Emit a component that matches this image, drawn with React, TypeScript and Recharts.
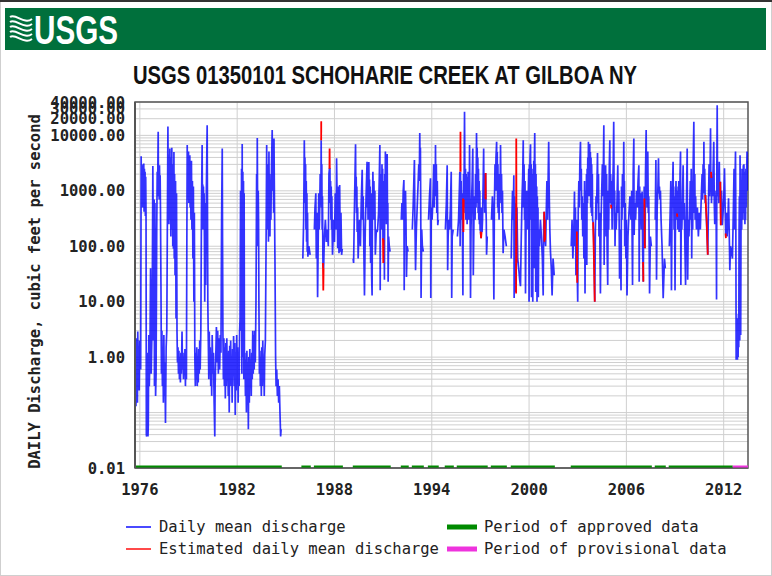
import React from 'react';
import { LineChart, Line, XAxis, YAxis, CartesianGrid, ReferenceArea } from 'recharts';

type Pt = [number, number];

const stationTitle = 'USGS 01350101 SCHOHARIE CREEK AT GILBOA NY';
const yAxisTitle = 'DAILY Discharge, cubic feet per second';
const yearTicks = [1976, 1982, 1988, 1994, 2000, 2006, 2012];
const flowTicks = [0.01, 1, 10, 100, 1000, 10000, 20000, 30000, 40000];

const flow1976: Pt[] = [
  [1975.70, 2.6], [1975.72, 0.3], [1975.74, 1.5], [1975.76, 0.13], [1975.78, 2.2], [1975.80, 0.4], [1975.82, 1.0], [1975.85, 0.15],
  [1975.87, 2.9], [1975.90, 0.5], [1975.93, 1.5], [1975.96, 0.25], [1975.99, 2.0], [1976.01, 0.8], [1976.05, 0.6], [1976.08, 4200],
  [1976.10, 600], [1976.12, 3000], [1976.14, 1200], [1976.16, 2900], [1976.18, 500], [1976.20, 2600], [1976.22, 900], [1976.24, 3100],
  [1976.26, 420], [1976.28, 2500], [1976.30, 700], [1976.32, 2200], [1976.34, 350], [1976.36, 1800], [1976.38, 400], [1976.40, 0.04],
  [1976.42, 0.037], [1976.44, 1.2], [1976.46, 0.04], [1976.48, 0.5], [1976.50, 0.037], [1976.52, 0.06], [1976.55, 2.5], [1976.58, 0.3],
  [1976.62, 1.0], [1976.66, 40], [1976.70, 0.5], [1976.76, 5], [1976.80, 2800], [1976.82, 300], [1976.84, 2.0], [1976.88, 700],
  [1976.90, 0.3], [1976.93, 600], [1976.95, 8], [1976.97, 0.2], [1977.00, 0.5], [1977.04, 200], [1977.07, 2200], [1977.09, 800],
  [1977.11, 3000], [1977.13, 11600], [1977.15, 1000], [1977.17, 2500], [1977.19, 700], [1977.21, 2900], [1977.23, 900], [1977.25, 1900],
  [1977.27, 500], [1977.30, 20], [1977.33, 0.5], [1977.36, 3], [1977.39, 0.3], [1977.42, 1.2], [1977.45, 0.15], [1977.48, 2.5],
  [1977.51, 0.2], [1977.54, 0.8], [1977.58, 0.065], [1977.62, 1.5], [1977.66, 3], [1977.70, 400], [1977.73, 14500], [1977.75, 1000],
  [1977.77, 4500], [1977.79, 250], [1977.81, 3800], [1977.83, 600], [1977.85, 5800], [1977.87, 300], [1977.89, 3500], [1977.91, 150],
  [1977.93, 4000], [1977.95, 400], [1977.97, 6000], [1977.99, 200], [1978.01, 3000], [1978.03, 100], [1978.05, 2500], [1978.07, 90],
  [1978.10, 5000], [1978.12, 60], [1978.14, 2000], [1978.17, 30], [1978.20, 1500], [1978.23, 5], [1978.26, 900], [1978.29, 2.9],
  [1978.32, 0.8], [1978.35, 1.5], [1978.38, 0.5], [1978.41, 1.3], [1978.44, 0.4], [1978.47, 1.0], [1978.50, 0.35], [1978.53, 1.2],
  [1978.56, 0.5], [1978.60, 2.9], [1978.63, 0.6], [1978.66, 1.2], [1978.69, 0.4], [1978.72, 1.0], [1978.75, 0.5], [1978.78, 1.4],
  [1978.81, 0.3], [1978.84, 1.1], [1978.87, 0.4], [1978.90, 200], [1978.92, 6700], [1978.94, 700], [1978.96, 4000], [1978.98, 1000],
  [1979.00, 5100], [1979.02, 600], [1979.04, 3000], [1979.06, 800], [1979.08, 4400], [1979.10, 500], [1979.12, 2500], [1979.15, 300],
  [1979.18, 3500], [1979.21, 200], [1979.24, 1500], [1979.27, 60], [1979.30, 1200], [1979.33, 10], [1979.36, 400], [1979.39, 1],
  [1979.42, 0.3], [1979.45, 1.2], [1979.48, 0.4], [1979.51, 1.5], [1979.54, 0.3], [1979.57, 1.0], [1979.60, 0.35], [1979.63, 1.4],
  [1979.66, 0.5], [1979.69, 2.0], [1979.72, 0.6], [1979.76, 3], [1979.80, 500], [1979.84, 6700], [1979.86, 500], [1979.88, 1300],
  [1979.90, 200], [1979.92, 1200], [1979.94, 300], [1979.96, 900], [1979.98, 150], [1980.00, 10], [1980.02, 600], [1980.06, 20],
  [1980.10, 1000], [1980.15, 15300], [1980.17, 400], [1980.19, 10], [1980.22, 2.0], [1980.25, 0.4], [1980.28, 2.9], [1980.31, 0.6],
  [1980.34, 1.5], [1980.37, 0.3], [1980.40, 1.0], [1980.43, 0.2], [1980.46, 2.5], [1980.50, 0.5], [1980.54, 1.2], [1980.58, 0.15],
  [1980.62, 0.037], [1980.64, 0.3], [1980.68, 1.0], [1980.72, 3.5], [1980.76, 0.8], [1980.80, 3.0], [1980.84, 0.5], [1980.88, 2.2],
  [1980.92, 0.6], [1980.96, 2.5], [1981.00, 1.2], [1981.04, 300], [1981.08, 5800], [1981.10, 100], [1981.12, 3.0], [1981.15, 0.4],
  [1981.18, 2.2], [1981.21, 0.3], [1981.24, 1.5], [1981.27, 0.18], [1981.30, 1.8], [1981.33, 0.3], [1981.36, 2.2], [1981.39, 0.5],
  [1981.42, 1.0], [1981.45, 0.2], [1981.48, 1.3], [1981.51, 0.1], [1981.54, 1.6], [1981.57, 0.4], [1981.60, 2.0], [1981.63, 0.3],
  [1981.66, 1.0], [1981.69, 0.15], [1981.72, 1.4], [1981.75, 0.45], [1981.78, 2.4], [1981.82, 0.3], [1981.85, 1.8], [1981.88, 0.09],
  [1981.91, 1.2], [1981.94, 0.25], [1981.97, 2.5], [1982.00, 0.4], [1982.03, 1.5], [1982.06, 0.15], [1982.09, 1.0], [1982.12, 0.3],
  [1982.15, 2.9], [1982.18, 5], [1982.21, 1000], [1982.24, 3.0], [1982.27, 2500], [1982.29, 0.5], [1982.31, 7000], [1982.33, 10],
  [1982.35, 2200], [1982.37, 1.0], [1982.39, 1500], [1982.41, 0.4], [1982.43, 900], [1982.45, 0.5], [1982.48, 1.2], [1982.51, 0.2],
  [1982.54, 0.9], [1982.57, 0.1], [1982.60, 1.3], [1982.63, 0.3], [1982.66, 0.8], [1982.69, 0.05], [1982.72, 1.0], [1982.75, 0.15],
  [1982.78, 1.4], [1982.81, 0.3], [1982.84, 0.9], [1982.87, 0.2], [1982.90, 1.2], [1982.93, 0.4], [1982.96, 3.0], [1982.99, 0.5],
  [1983.02, 2.5], [1983.05, 0.6], [1983.08, 3], [1983.12, 0.8], [1983.16, 10], [1983.20, 2000], [1983.22, 100], [1983.24, 9000],
  [1983.26, 600], [1983.28, 200], [1983.30, 1000], [1983.32, 300], [1983.34, 10], [1983.37, 0.5], [1983.40, 1.3], [1983.43, 0.3],
  [1983.46, 1.0], [1983.49, 0.2], [1983.52, 1.5], [1983.55, 0.3], [1983.58, 2.0], [1983.61, 0.4], [1983.64, 0.9], [1983.67, 0.2],
  [1983.70, 1.1], [1983.74, 2.0], [1983.78, 80], [1983.82, 6700], [1983.84, 300], [1983.86, 1500], [1983.88, 200], [1983.91, 3000],
  [1983.93, 120], [1983.96, 5100], [1983.98, 500], [1984.00, 2000], [1984.02, 150], [1984.05, 1500], [1984.08, 300], [1984.12, 3000],
  [1984.16, 12500], [1984.19, 1000], [1984.22, 3000], [1984.25, 400], [1984.27, 8800], [1984.30, 600], [1984.33, 60], [1984.37, 1.0],
  [1984.40, 0.3], [1984.44, 0.6], [1984.48, 0.2], [1984.52, 0.4], [1984.56, 0.15], [1984.60, 0.3], [1984.64, 0.1], [1984.68, 0.037],
  [1984.71, 0.05],
];

const flow1986a: Pt[] = [
  [1986.05, 60], [1986.10, 300], [1986.12, 1500], [1986.14, 8200], [1986.16, 2000], [1986.18, 4000], [1986.20, 600], [1986.22, 3000],
  [1986.24, 200], [1986.26, 1500], [1986.28, 120], [1986.30, 900], [1986.32, 80], [1986.34, 400], [1986.36, 65], [1986.42, 100],
  [1986.50, 70],
];

const flow1986b: Pt[] = [
  [1986.76, 200], [1986.80, 500], [1986.85, 900], [1986.88, 60], [1986.92, 400], [1986.96, 12], [1987.00, 150], [1987.03, 900],
  [1987.06, 200], [1987.08, 300], [1987.12, 2000], [1987.16, 600], [1987.18, 8200], [1987.20, 500], [1987.22, 3000], [1987.24, 200],
  [1987.26, 800], [1987.29, 50], [1987.33, 40], [1987.38, 150], [1987.44, 300], [1987.50, 120], [1987.56, 200], [1987.62, 100],
  [1987.66, 2000], [1987.69, 2500], [1987.72, 2500], [1987.74, 600], [1987.76, 1500], [1987.78, 300], [1987.80, 1200], [1987.82, 200],
  [1987.84, 800], [1987.86, 150], [1987.88, 70], [1987.95, 300], [1988.00, 120], [1988.05, 900], [1988.10, 200], [1988.13, 3850],
  [1988.16, 800], [1988.20, 92], [1988.22, 1200], [1988.25, 200], [1988.28, 75], [1988.32, 1270], [1988.36, 80], [1988.40, 400],
  [1988.44, 70], [1988.48, 90],
];

const flow1989: Pt[] = [
  [1989.15, 60], [1989.18, 50], [1989.22, 300], [1989.26, 1500], [1989.30, 6900], [1989.32, 800], [1989.34, 1800], [1989.36, 400],
  [1989.38, 1200], [1989.40, 180], [1989.43, 500], [1989.46, 60], [1989.50, 150], [1989.55, 300], [1989.60, 100], [1989.65, 600],
  [1989.71, 2400], [1989.74, 300], [1989.77, 800], [1989.80, 150], [1989.85, 13], [1989.90, 200], [1989.95, 800], [1990.01, 3350],
  [1990.03, 500], [1990.05, 2000], [1990.07, 300], [1990.09, 1800], [1990.12, 3300], [1990.14, 400], [1990.16, 1600], [1990.18, 100],
  [1990.20, 1200], [1990.23, 50], [1990.26, 900], [1990.29, 30], [1990.32, 13], [1990.34, 500], [1990.37, 2200], [1990.40, 300],
  [1990.43, 1500], [1990.46, 400], [1990.49, 1000], [1990.52, 70], [1990.58, 200], [1990.63, 180], [1990.66, 200], [1990.72, 400],
  [1990.76, 1500], [1990.80, 6700], [1990.82, 16], [1990.84, 1000], [1990.86, 300], [1990.88, 2000], [1990.90, 200], [1990.93, 3000],
  [1990.95, 400], [1990.97, 2500], [1990.99, 140], [1991.03, 130], [1991.05, 1500], [1991.08, 25], [1991.10, 2000], [1991.12, 300],
  [1991.14, 5100], [1991.16, 500], [1991.18, 3000], [1991.20, 250], [1991.22, 2500], [1991.25, 4600], [1991.27, 300], [1991.29, 600],
  [1991.31, 23], [1991.34, 150], [1991.38, 100], [1991.43, 80],
];

const flow1992a: Pt[] = [
  [1992.12, 300], [1992.16, 600], [1992.20, 300], [1992.24, 1000], [1992.28, 1560], [1992.30, 16], [1992.32, 800], [1992.35, 400],
  [1992.38, 1000], [1992.41, 300], [1992.44, 28], [1992.48, 100], [1992.54, 80],
];

const flow1992b: Pt[] = [
  [1992.80, 200], [1992.85, 500], [1992.93, 3600], [1992.96, 300], [1993.00, 37], [1993.05, 200], [1993.10, 500], [1993.15, 1200],
  [1993.20, 3000], [1993.23, 1500], [1993.26, 11000], [1993.28, 2500], [1993.30, 6000], [1993.32, 500], [1993.34, 11.6], [1993.38, 200],
  [1993.42, 100], [1993.48, 80],
];

const flow1993: Pt[] = [
  [1993.80, 300], [1993.86, 800], [1993.92, 1680], [1993.94, 11.6], [1993.97, 500], [1994.02, 300], [1994.08, 800], [1994.12, 3000],
  [1994.15, 500], [1994.18, 2500], [1994.21, 800], [1994.23, 6700], [1994.25, 900], [1994.28, 3000], [1994.31, 400], [1994.34, 1500],
  [1994.37, 240], [1994.40, 300],
];

const flow1994: Pt[] = [
  [1994.84, 200], [1994.90, 600], [1994.95, 2900], [1994.98, 37], [1995.01, 150], [1995.05, 300], [1995.10, 200], [1995.15, 500],
  [1995.20, 2200], [1995.23, 11.6], [1995.26, 150], [1995.32, 200],
];

const flow1995: Pt[] = [
  [1995.58, 150], [1995.65, 300], [1995.70, 1000], [1995.73, 2200], [1995.75, 100], [1995.77, 2200], [1995.79, 500], [1995.81, 1500],
  [1995.83, 300], [1995.86, 900], [1995.89, 200], [1995.92, 13], [1995.94, 600], [1995.96, 2000], [1995.98, 400], [1996.00, 3000],
  [1996.02, 26700], [1996.04, 2000], [1996.06, 500], [1996.08, 2500], [1996.10, 300], [1996.12, 2000], [1996.14, 600], [1996.16, 1800],
  [1996.18, 250], [1996.20, 1500], [1996.22, 400], [1996.24, 2200], [1996.26, 300], [1996.28, 1500], [1996.31, 500], [1996.33, 6700],
  [1996.35, 800], [1996.37, 200], [1996.39, 11.6], [1996.42, 200], [1996.45, 600], [1996.49, 1500], [1996.53, 5800], [1996.56, 30],
  [1996.60, 300], [1996.64, 800], [1996.67, 300], [1996.70, 2000], [1996.73, 500], [1996.76, 11000], [1996.78, 1500], [1996.80, 6000],
  [1996.82, 600], [1996.84, 4000], [1996.86, 400], [1996.88, 2500], [1996.90, 300], [1996.92, 1500], [1996.94, 250], [1996.96, 1000],
  [1996.98, 200], [1997.01, 184], [1997.04, 140], [1997.07, 500], [1997.10, 180], [1997.13, 300], [1997.17, 1500], [1997.20, 5800],
  [1997.22, 600], [1997.24, 2000], [1997.26, 400], [1997.28, 1800], [1997.30, 700], [1997.32, 2100], [1997.34, 500], [1997.36, 300],
  [1997.38, 70], [1997.42, 150],
];

const flow1997: Pt[] = [
  [1997.68, 300], [1997.74, 800], [1997.78, 400], [1997.83, 11], [1997.86, 500], [1997.90, 3000], [1997.93, 1000], [1997.96, 4000],
  [1998.00, 7700], [1998.02, 1000], [1998.04, 5000], [1998.06, 500], [1998.08, 3000], [1998.10, 400], [1998.12, 2000], [1998.15, 300],
  [1998.18, 1500], [1998.21, 600], [1998.24, 6700], [1998.27, 700], [1998.30, 2000], [1998.33, 400], [1998.36, 1000], [1998.40, 75],
  [1998.45, 200], [1998.52, 150], [1998.60, 100],
];

const flow1998: Pt[] = [
  [1998.90, 60], [1998.94, 300], [1998.98, 1000], [1999.02, 300], [1999.06, 1900], [1999.08, 11.6], [1999.11, 800], [1999.14, 200],
  [1999.17, 600], [1999.19, 15], [1999.25, 500], [1999.30, 60], [1999.36, 40], [1999.42, 25], [1999.47, 19], [1999.52, 150],
  [1999.57, 800], [1999.61, 2000], [1999.64, 8200], [1999.66, 500], [1999.69, 3000], [1999.72, 300], [1999.75, 1500], [1999.78, 14],
  [1999.82, 400], [1999.86, 1000], [1999.90, 200], [1999.94, 600], [1999.98, 2500], [2000.00, 10], [2000.02, 3000], [2000.04, 500],
  [2000.06, 4000], [2000.09, 6900], [2000.11, 300], [2000.13, 3000], [2000.15, 12], [2000.17, 2500], [2000.19, 200], [2000.21, 2000],
  [2000.23, 10], [2000.25, 1500], [2000.27, 100], [2000.29, 3500], [2000.31, 40], [2000.33, 4000], [2000.35, 11000], [2000.37, 600],
  [2000.39, 3000], [2000.41, 15], [2000.43, 2000], [2000.45, 100], [2000.47, 1200], [2000.49, 10], [2000.51, 800], [2000.53, 30],
  [2000.55, 500], [2000.57, 12], [2000.60, 200], [2000.64, 100], [2000.70, 300], [2000.76, 150], [2000.82, 60], [2000.87, 13],
  [2000.90, 200], [2000.93, 420], [2000.96, 150], [2000.99, 130], [2001.02, 100], [2001.06, 400], [2001.10, 1500], [2001.14, 300],
  [2001.18, 2000], [2001.21, 7700], [2001.24, 1000], [2001.28, 200], [2001.32, 80], [2001.37, 40], [2001.42, 13], [2001.48, 60],
  [2001.55, 30],
];

const flow2002: Pt[] = [
  [2002.60, 100], [2002.65, 300], [2002.70, 60], [2002.76, 200], [2002.80, 970], [2002.83, 100], [2002.86, 500], [2002.89, 30],
  [2002.92, 300], [2002.96, 184], [2002.98, 22], [2003.00, 10], [2003.03, 400], [2003.07, 1500], [2003.10, 500], [2003.13, 3000],
  [2003.17, 7700], [2003.19, 1000], [2003.22, 2500], [2003.25, 300], [2003.28, 800], [2003.31, 150], [2003.35, 600], [2003.38, 60],
  [2003.42, 1500], [2003.45, 14], [2003.48, 1000], [2003.51, 100], [2003.54, 2000], [2003.56, 46], [2003.58, 2500], [2003.60, 600],
  [2003.62, 4000], [2003.64, 800], [2003.66, 7700], [2003.68, 1500], [2003.70, 6000], [2003.72, 800], [2003.74, 7000], [2003.76, 1000],
  [2003.78, 5000], [2003.80, 500], [2003.82, 4000], [2003.84, 400], [2003.86, 3000], [2003.88, 350], [2003.90, 2000], [2003.92, 300],
  [2003.95, 270], [2003.98, 150], [2004.02, 40], [2004.05, 10], [2004.09, 200], [2004.13, 800], [2004.16, 300], [2004.19, 1500],
  [2004.22, 4800], [2004.25, 600], [2004.28, 2000], [2004.31, 150], [2004.35, 400], [2004.40, 14], [2004.44, 300], [2004.48, 1000],
  [2004.52, 3000], [2004.56, 800], [2004.61, 15300], [2004.63, 46], [2004.66, 2500], [2004.69, 300], [2004.72, 2900], [2004.75, 150],
  [2004.78, 2000], [2004.81, 100], [2004.85, 20], [2004.88, 1000], [2004.91, 200], [2004.95, 3000], [2004.98, 8200], [2005.00, 600],
  [2005.03, 2000], [2005.06, 560], [2005.09, 1500], [2005.12, 200], [2005.16, 1200], [2005.19, 3000], [2005.22, 17600], [2005.24, 1500],
  [2005.26, 200], [2005.28, 1000], [2005.30, 100], [2005.33, 400], [2005.37, 200], [2005.42, 600], [2005.47, 2900], [2005.50, 400],
  [2005.54, 1000], [2005.58, 26], [2005.62, 200], [2005.67, 16], [2005.70, 1200], [2005.73, 300], [2005.76, 2000], [2005.80, 500],
  [2005.84, 7700], [2005.86, 800], [2005.88, 1500], [2005.90, 100], [2005.93, 600], [2005.97, 60], [2006.00, 300], [2006.04, 13],
  [2006.10, 150], [2006.16, 400], [2006.22, 800], [2006.28, 300], [2006.33, 1000], [2006.38, 20], [2006.42, 2000], [2006.46, 8800],
  [2006.48, 160], [2006.52, 600], [2006.57, 300], [2006.62, 1000], [2006.67, 500], [2006.72, 1500], [2006.77, 2900], [2006.79, 23],
  [2006.82, 1200], [2006.85, 400], [2006.88, 900], [2006.92, 200], [2006.97, 970], [2007.00, 100], [2007.04, 23], [2007.07, 300],
  [2007.10, 1200], [2007.12, 730], [2007.15, 92], [2007.18, 2000], [2007.22, 12500], [2007.24, 1500], [2007.26, 2500], [2007.28, 500],
  [2007.32, 5100], [2007.35, 400], [2007.38, 800], [2007.43, 14], [2007.48, 150], [2007.54, 100],
];

const flow2007: Pt[] = [
  [2007.78, 300], [2007.82, 3600], [2007.86, 25], [2007.90, 500], [2007.94, 1000], [2007.98, 3850], [2008.01, 900], [2008.04, 1200],
  [2008.07, 700], [2008.10, 1000], [2008.14, 300], [2008.20, 100], [2008.27, 11.6], [2008.35, 60], [2008.40, 40],
];

const flow2008: Pt[] = [
  [2008.65, 100], [2008.70, 400], [2008.74, 1500], [2008.78, 16], [2008.82, 600], [2008.85, 1200], [2008.88, 3350], [2008.90, 500],
  [2008.92, 1200], [2008.94, 200], [2008.97, 800], [2009.00, 16], [2009.03, 400], [2009.06, 1500], [2009.09, 300], [2009.11, 1000],
  [2009.13, 390], [2009.15, 800], [2009.17, 200], [2009.19, 1200], [2009.21, 250], [2009.23, 1500], [2009.25, 180], [2009.27, 1000],
  [2009.29, 200], [2009.31, 2000], [2009.34, 5100], [2009.36, 20], [2009.39, 600], [2009.42, 200], [2009.46, 800], [2009.50, 2900],
  [2009.53, 300], [2009.57, 600], [2009.61, 100], [2009.65, 20], [2009.70, 500], [2009.75, 5800], [2009.78, 25], [2009.82, 300],
  [2009.86, 150], [2009.90, 400], [2009.94, 1500], [2009.97, 300], [2010.00, 2500], [2010.03, 60], [2010.06, 1500], [2010.09, 200],
  [2010.12, 3000], [2010.16, 17600], [2010.18, 1500], [2010.20, 400], [2010.22, 2000], [2010.24, 300], [2010.27, 800], [2010.32, 200],
  [2010.38, 500], [2010.44, 150], [2010.50, 400], [2010.56, 200], [2010.62, 800], [2010.67, 2000], [2010.70, 700], [2010.73, 3000],
  [2010.76, 900], [2010.78, 7700], [2010.80, 1000], [2010.83, 2500], [2010.86, 600], [2010.88, 840], [2010.92, 400], [2010.96, 200],
  [2011.00, 100], [2011.02, 70], [2011.06, 500], [2011.10, 3000], [2011.13, 800], [2011.16, 2000], [2011.19, 13400], [2011.21, 1200],
  [2011.23, 2000], [2011.25, 600], [2011.28, 1500], [2011.31, 800], [2011.35, 2500], [2011.39, 7700], [2011.42, 600], [2011.45, 250],
  [2011.49, 400], [2011.53, 1000], [2011.56, 11], [2011.58, 3000], [2011.60, 35000], [2011.62, 2000], [2011.64, 800], [2011.67, 1500],
  [2011.70, 600], [2011.73, 3350], [2011.76, 800], [2011.80, 1460], [2011.83, 240], [2011.87, 1000], [2011.91, 240], [2011.96, 400],
  [2012.01, 800], [2012.05, 2540], [2012.09, 500], [2012.13, 150], [2012.17, 400], [2012.21, 150], [2012.26, 300], [2012.30, 730],
  [2012.34, 200], [2012.38, 37], [2012.42, 100], [2012.48, 80], [2012.54, 60],
  // provisional
  [2012.60, 500], [2012.64, 2500], [2012.67, 200], [2012.70, 1500], [2012.73, 5100], [2012.75, 300], [2012.77, 0.9], [2012.79, 3],
  [2012.81, 1.2], [2012.83, 5], [2012.85, 0.9], [2012.87, 2.5], [2012.89, 1.0], [2012.91, 6], [2012.93, 1.5], [2012.95, 200],
  [2012.97, 800], [2012.99, 2.0], [2013.01, 4400], [2013.03, 600], [2013.05, 2.5], [2013.07, 300], [2013.09, 1500], [2013.11, 200],
  [2013.13, 2500], [2013.15, 400], [2013.17, 2000], [2013.19, 300], [2013.21, 2900], [2013.23, 500], [2013.25, 3000], [2013.27, 400],
  [2013.29, 2200], [2013.31, 250], [2013.33, 1800], [2013.35, 300], [2013.37, 2500], [2013.39, 500], [2013.41, 1500], [2013.44, 5100],
  [2013.47, 1000], [2013.50, 3000],
];

const dailyFlow: Pt[][] = [
  flow1976, flow1986a, flow1986b, flow1989, flow1992a, flow1992b, flow1993, flow1994,
  flow1995, flow1997, flow1998, flow2002, flow2007, flow2008,
];

// estimated daily mean discharge (red)
const estimated: Pt[][] = [
  [[1987.18, 8200], [1987.185, 18000]],
  [[1987.29, 50], [1987.31, 16], [1987.33, 40]],
  [[1987.69, 2500], [1987.70, 5800], [1987.71, 2500]],
  [[1990.99, 140], [1991.01, 50], [1991.03, 130]],
  [[1995.76, 2200], [1995.77, 11600], [1995.78, 2200]],
  [[1995.93, 730], [1995.95, 180], [1995.97, 700]],
  [[1997.01, 184], [1997.04, 140], [1997.07, 180]],
  [[1997.31, 730], [1997.32, 2100], [1997.33, 700]],
  [[1999.20, 14], [1999.21, 8800], [1999.22, 600], [1999.23, 50]],
  [[2000.93, 420], [2000.95, 120], [2000.97, 300], [2000.99, 130]],
  [[2002.95, 184], [2002.97, 22]],
  [[2003.95, 270], [2004.00, 60], [2004.05, 10]],
  [[2005.05, 560], [2005.07, 480]],
  [[2007.03, 52], [2007.05, 23]],
  [[2007.11, 730], [2007.14, 92]],
  [[2009.12, 390], [2009.14, 340]],
  [[2010.87, 840], [2010.95, 300], [2011.02, 70]],
  [[2011.22, 2200], [2011.24, 1700]],
  [[2011.79, 1460], [2011.82, 240]],
  [[2012.12, 170], [2012.14, 140]],
];

const approvedPeriods: Pt[] = [
  [1975.70, 1984.75], [1985.96, 1986.54], [1986.73, 1988.52], [1989.13, 1991.47], [1992.09, 1992.58],
  [1992.77, 1993.51], [1993.76, 1994.43], [1994.80, 1995.36], [1995.54, 1997.45], [1997.64, 1998.63],
  [1998.87, 2001.59], [2002.57, 2007.57], [2007.75, 2008.43], [2008.61, 2012.56],
];
const provisionalPeriods: Pt[] = [[2012.56, 2013.5]];

const FLOOR = 0.01;
const rows = (pts: Pt[]) => pts.map(([t, q]) => ({ t, q }));
const periodRows = ([a, b]: Pt) => [{ t: a, q: FLOOR }, { t: b, q: FLOOR }];

const gridFlows: number[] = [];
for (let e = -2; e <= 4; e++) {
  for (let m = 1; m <= 9; m++) {
    const v = Number((m * Math.pow(10, e)).toPrecision(3));
    if (v <= 40000) gridFlows.push(v);
  }
}

const mono = '"DejaVu Sans Mono", monospace';
const tickStyle = { fontFamily: mono, fontSize: 15.5, fontWeight: 700, fill: '#222' };

export default function App() {
  return (
    <div style={{ position: 'absolute', left: 0, top: 0, width: 772, height: 576, background: '#fff', overflow: 'hidden' }}>
      <div style={{ position: 'absolute', left: 0, top: 0 }}>
        <LineChart width={772} height={576} margin={{ top: 102, right: 24, bottom: 78, left: 0 }}>
          <CartesianGrid
            stroke="#cfcfcf"
            horizontalValues={gridFlows}
            verticalValues={yearTicks}
          />
          <XAxis
            dataKey="t"
            type="number"
            domain={[1975.7, 2013.5]}
            allowDataOverflow
            ticks={yearTicks}
            interval={0}
            height={30}
            tickLine={false}
            tickMargin={10}
            axisLine={{ stroke: '#555' }}
            tick={tickStyle}
          />
          <YAxis
            dataKey="q"
            scale="log"
            domain={[0.01, 40000]}
            allowDataOverflow
            ticks={flowTicks}
            interval={0}
            width={135}
            tickLine={false}
            tickMargin={4}
            axisLine={{ stroke: '#555', strokeWidth: 2 }}
            tick={tickStyle}
            tickFormatter={(v: number) => v.toFixed(2)}
          />
          {dailyFlow.map((seg, i) => (
            <Line key={`q${i}`} data={rows(seg)} dataKey="q" type="linear" stroke="#0000ff" strokeOpacity={0.8}
              strokeWidth={1.7} dot={false} activeDot={false} isAnimationActive={false} />
          ))}
          {estimated.map((seg, i) => (
            <Line key={`e${i}`} data={rows(seg)} dataKey="q" type="linear" stroke="#ff0000" strokeWidth={1.8}
              dot={false} activeDot={false} isAnimationActive={false} />
          ))}
          {approvedPeriods.map((p, i) => (
            <Line key={`a${i}`} data={periodRows(p)} dataKey="q" stroke="#008a00" strokeWidth={5}
              dot={false} activeDot={false} isAnimationActive={false} />
          ))}
          {provisionalPeriods.map((p, i) => (
            <Line key={`p${i}`} data={periodRows(p)} dataKey="q" stroke="#ee33dd" strokeWidth={5}
              dot={false} activeDot={false} isAnimationActive={false} />
          ))}
          <ReferenceArea x1={1975.7} x2={2013.5} y1={0.01} y2={40000} fill="none" stroke="#555" strokeWidth={1.5} />
        </LineChart>
      </div>
      <svg width={772} height={576} style={{ position: 'absolute', left: 0, top: 0, pointerEvents: 'none' }}>
        <rect x={0.5} y={0.5} width={771} height={575} fill="none" stroke="#cfcfcf" />
        <rect x={0} y={0} width={772} height={2} fill="#333" />
        <rect x={5} y={8} width={761} height={42} fill="#00703c" />
        <g stroke="#fff" strokeWidth={2} fill="none">
          {[0, 1, 2, 3, 4].map((i) => (
            <path key={i} d={`M10 ${17 + i * 5} C16 ${13 + i * 5} 24 ${25 + i * 5} 32 ${19 + i * 5}`} />
          ))}
        </g>
        <text x={34} y={44} fill="#fff" fontFamily='"Liberation Sans Narrow", "Liberation Sans", Arial, sans-serif'
          fontWeight={700} fontSize={40} textLength={84} lengthAdjust="spacingAndGlyphs">USGS</text>
        <text x={133} y={84} fill="#111" fontFamily='"Liberation Sans Narrow", "Liberation Sans", Arial, sans-serif'
          fontWeight={700} fontSize={26} textLength={504} lengthAdjust="spacingAndGlyphs">{stationTitle}</text>
        <text transform="translate(35,291.5) rotate(-90)" textAnchor="middle" dominantBaseline="central"
          fontFamily={mono} fontWeight={700} fontSize={15.5} fill="#222">{yAxisTitle}</text>
        <g fontFamily={mono} fontSize={15.5} fill="#222">
          <line x1={126} y1={527} x2={151} y2={527} stroke="#4a4aff" strokeWidth={2} />
          <text x={159} y={527} dominantBaseline="central">Daily mean discharge</text>
          <line x1={126} y1={549} x2={151} y2={549} stroke="#ff4a4a" strokeWidth={2} />
          <text x={159} y={549} dominantBaseline="central">Estimated daily mean discharge</text>
          <line x1={447} y1={527} x2={477} y2={527} stroke="#008a00" strokeWidth={5} />
          <text x={484} y={527} dominantBaseline="central">Period of approved data</text>
          <line x1={447} y1={549} x2={477} y2={549} stroke="#ee33dd" strokeWidth={5} />
          <text x={484} y={549} dominantBaseline="central">Period of provisional data</text>
        </g>
      </svg>
    </div>
  );
}
